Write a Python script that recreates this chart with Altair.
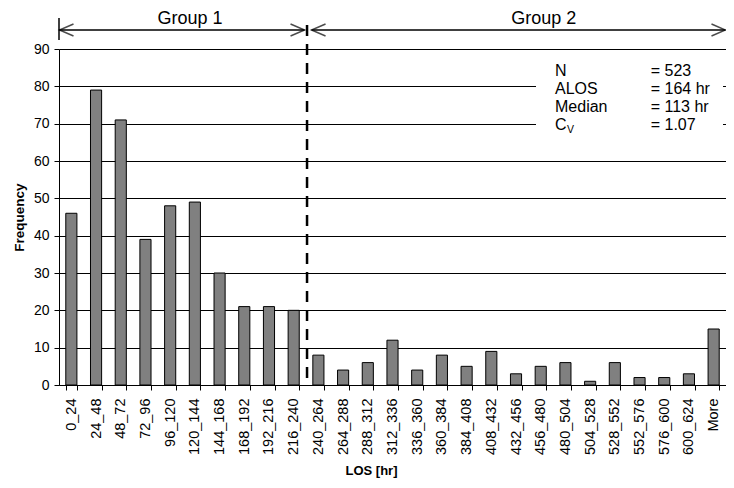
import altair as alt
import pandas as pd

# ---------------- data ----------------
categories = ["0_24", "24_48", "48_72", "72_96", "96_120", "120_144", "144_168",
              "168_192", "192_216", "216_240", "240_264", "264_288", "288_312",
              "312_336", "336_360", "360_384", "384_408", "408_432", "432_456",
              "456_480", "480_504", "504_528", "528_552", "552_576", "576_600",
              "600_624", "More"]
frequency = [46, 79, 71, 39, 48, 49, 30, 21, 21, 20,
             8, 4, 6, 12, 4, 8, 5, 9, 3, 5, 6, 1, 6, 2, 2, 3, 15]
group_labels = ["Group 1", "Group 2"]
split_category = "240_264"
stat_names = ["N", "ALOS", "Median", "C"]
stat_values = ["= 523", "= 164 hr", "= 113 hr", "= 1.07"]
y_ticks = list(range(0, 91, 10))

# ---------------- layout ----------------
FONT = "Liberation Sans"
PAD_L, PAD_T, PAD_B = 51, 41, 95
W, H = 667, 336
n = len(categories)
split = categories.index(split_category)
ARROW_Y = -19

bars_df = pd.DataFrame({"LOS": categories, "Frequency": frequency})

bars = alt.Chart(bars_df).mark_bar(fill="#808080", stroke="black", strokeWidth=1).encode(
    x=alt.X("LOS:N", sort=categories, title="LOS [hr]",
            scale=alt.Scale(paddingInner=0.55, paddingOuter=0.275),
            axis=alt.Axis(labelAngle=-90, tickBand="extent", labelFontSize=14.5,
                          labelPadding=8, tickSize=5, titleFontSize=13,
                          titleFontWeight="bold", titleY=79, titleBaseline="top",
                          titleX=312, titleAlign="center")),
    y=alt.Y("Frequency:Q", title="Frequency",
            scale=alt.Scale(domain=[0, 90], nice=False),
            axis=alt.Axis(values=y_ticks, grid=True, gridColor="black", gridWidth=1,
                          labelFontSize=14, labelPadding=5, tickSize=5,
                          titleFontSize=13.5, titleFontWeight="bold",
                          titleX=-40, titleY=H / 2, titleAngle=-90,
                          titleAlign="center", titleBaseline="middle")),
)

qx = alt.Scale(domain=[0, n], nice=False, zero=False)


def xq(field="x"):
    return alt.X(f"{field}:Q", scale=qx, axis=None)


layers = [bars]

# white box behind statistics
layers.append(
    alt.Chart(pd.DataFrame({"a": [0]})).mark_rect(fill="white").encode(
        x=alt.value(477), x2=alt.value(664), y=alt.value(6), y2=alt.value(106))
)

# arrow lines
layers.append(
    alt.Chart(pd.DataFrame({"x": [0], "x2": [split]})).mark_rule(
        color="black", strokeWidth=1.5, x2Offset=-1.5).encode(
        x=xq(), x2="x2:Q", y=alt.value(ARROW_Y))
)
layers.append(
    alt.Chart(pd.DataFrame({"x": [split], "x2": [n]})).mark_rule(
        color="black", strokeWidth=1.5, xOffset=5.5, x2Offset=-0.5).encode(
        x=xq(), x2="x2:Q", y=alt.value(ARROW_Y))
)
# left vertical bar
layers.append(
    alt.Chart(pd.DataFrame({"x": [0]})).mark_rule(color="black", strokeWidth=1.5).encode(
        x=xq(), y=alt.value(-31), y2=alt.value(-9))
)
LEFT = "M2,-0.85L0,0L2,0.85"
RIGHT = "M-2,-0.85L0,0L-2,0.85"
for pos, shape, off in [(0, LEFT, 0.5), (split, RIGHT, -1.5), (split, LEFT, 5.5), (n, RIGHT, -0.5)]:
    layers.append(
        alt.Chart(pd.DataFrame({"x": [pos]})).mark_point(
            shape=shape, size=196, filled=False, stroke="black", strokeWidth=1.5,
            xOffset=off).encode(x=xq(), y=alt.value(ARROW_Y))
    )

# dashed separator
layers.append(
    alt.Chart(pd.DataFrame({"x": [split]})).mark_rule(
        color="black", strokeWidth=2.5, strokeDash=[11, 8], xOffset=1).encode(
        x=xq(), y=alt.value(-24), y2=alt.value(H))
)

# group labels
for lab, px in zip(group_labels, [131, 484.7]):
    layers.append(
        alt.Chart(pd.DataFrame({"t": [lab]})).mark_text(
            font=FONT, fontSize=18, align="center", baseline="alphabetic", color="black").encode(
            text="t:N", x=alt.value(px), y=alt.value(-25.5))
    )

# statistics
row_y = [27, 45, 63, 81]
for name, val, yy in zip(stat_names, stat_values, row_y):
    layers.append(
        alt.Chart(pd.DataFrame({"t": [name]})).mark_text(
            font=FONT, fontSize=16, align="left", baseline="alphabetic", color="black").encode(
            text="t:N", x=alt.value(496), y=alt.value(yy))
    )
    layers.append(
        alt.Chart(pd.DataFrame({"t": [val]})).mark_text(
            font=FONT, fontSize=16, align="left", baseline="alphabetic", color="black").encode(
            text="t:N", x=alt.value(591.7), y=alt.value(yy))
    )
layers.append(
    alt.Chart(pd.DataFrame({"t": ["V"]})).mark_text(
        font=FONT, fontSize=10.5, align="left", baseline="alphabetic", color="black").encode(
        text="t:N", x=alt.value(508), y=alt.value(84))
)

chart = alt.layer(*layers).resolve_scale(x="independent").properties(
    width=W, height=H,
    autosize=alt.AutoSizeParams(type="none"),
    padding={"left": PAD_L, "top": PAD_T, "right": 0, "bottom": PAD_B},
).configure_view(stroke=None).configure_axis(
    labelFont=FONT, titleFont=FONT, labelColor="black", titleColor="black",
    tickColor="black", domainColor="black", domainWidth=1, tickWidth=1,
).configure_text(font=FONT)

chart.save("out.html", embed_options={"renderer": "svg", "actions": False})
